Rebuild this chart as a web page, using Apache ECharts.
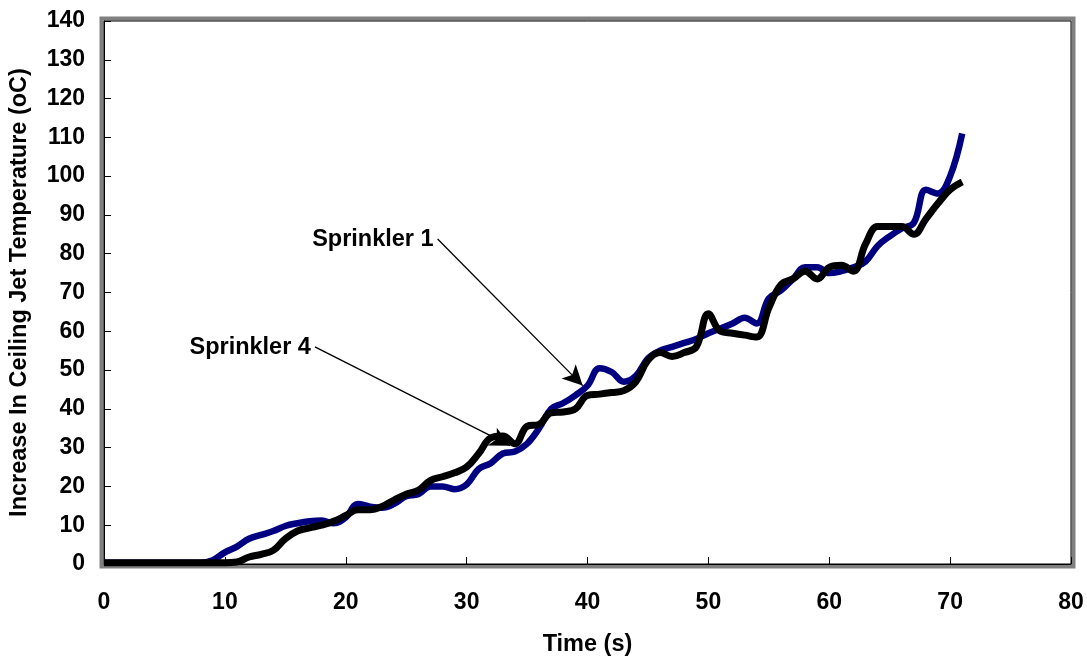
<!DOCTYPE html>
<html>
<head>
<meta charset="utf-8">
<script src="https://cdn.jsdelivr.net/npm/echarts@6/dist/echarts.min.js"></script>
<style>
  html, body { margin: 0; padding: 0; background: #fff; }
  #main { width: 1087px; height: 662px; }
</style>
</head>
<body>
<div id="main"></div>
<script>
// time (s), one reading per second
var times = [];
for (var i = 0; i <= 71; i++) times.push(i);

// Sprinkler 1 (navy)
var sprinkler1 = [
  0.3, 0.3, 0.3, 0.3, 0.3, 0.3, 0.3, 0.3, 0.3, 1,
  3, 4.5, 6.5, 7.5, 8.5, 9.8, 10.5, 11, 11.2, 10.5,
  12, 15.5, 14.8, 14.5, 15.5, 17.5, 18, 20, 20, 19.3,
  20.5, 24.5, 26, 28.5, 29, 31, 35, 40, 41.5, 43.5,
  46, 50.5, 49.5, 47, 48.5, 53, 55, 56, 57, 58,
  59.5, 60.7, 62, 63.5, 62, 68.5, 70.5, 73.5, 76.5, 76.5,
  75, 75.5, 76.5, 78, 82, 84.5, 86.5, 88, 96.5, 95.5,
  100, 111
];

// Sprinkler 4 (black)
var sprinkler4 = [
  0.3, 0.3, 0.3, 0.3, 0.3, 0.3, 0.3, 0.3, 0.3, 0.3,
  0.3, 0.5, 1.8, 2.5, 3.5, 6.5, 8.5, 9.3, 10, 11,
  12.5, 14, 14, 14.8, 16.5, 18, 19, 21.5, 22.5, 23.5,
  25, 28.5, 32.5, 33, 31, 35.5, 36, 39, 39.2, 40,
  43.5, 43.8, 44.2, 44.7, 47, 52.5, 54.5, 53.5, 54.5, 56,
  64.5, 60, 59.5, 59, 58.5, 66, 72, 73.5, 75.5, 73.5,
  76.5, 77, 75.5, 82.5, 87, 87, 87, 85, 89, 93,
  96.5, 98.5
];

// annotation callouts (data coordinates)
var annoLabels = ['Sprinkler 1', 'Sprinkler 4'];
var annoFrom = [[27.6, 83.8], [17.45, 56]];
var annoTo = [[39.6, 46], [33.6, 30.5]];

function pairs(vals) {
  var out = [];
  for (var i = 0; i < vals.length; i++) out.push([times[i], vals[i]]);
  return out;
}

var font = 'Liberation Sans, Arial, sans-serif';
var labelStyle = { color: '#000', fontSize: 23.5, fontWeight: 'bold', fontFamily: font };
var tickStyle = { color: '#000', fontSize: 23, fontWeight: 'bold', fontFamily: font };

var myChart = echarts.init(document.getElementById('main'));

var arrows = [];
for (var k = 0; k < annoLabels.length; k++) {
  arrows.push([{ coord: annoFrom[k] }, { coord: annoTo[k] }]);
}

var option = {
  animation: false,
  backgroundColor: '#fff',
  grid: { left: 104, right: 16, top: 21, bottom: 95 },
  xAxis: {
    type: 'value',
    min: 0, max: 80, interval: 10,
    name: 'Time (s)',
    nameLocation: 'middle',
    nameGap: 69,
    nameTextStyle: labelStyle,
    axisLine: { show: true, lineStyle: { color: '#000', width: 1 } },
    axisTick: { show: true, inside: true, length: 7, lineStyle: { color: '#000' } },
    axisLabel: Object.assign({ margin: 27 }, tickStyle),
    splitLine: { show: false }
  },
  yAxis: {
    type: 'value',
    min: 0, max: 140, interval: 10,
    name: 'Increase In Ceiling Jet Temperature (oC)',
    nameLocation: 'middle',
    nameGap: 72,
    nameTextStyle: labelStyle,
    axisLine: { show: true, lineStyle: { color: '#000', width: 1 } },
    axisTick: { show: true, inside: true, length: 7, lineStyle: { color: '#000' } },
    axisLabel: Object.assign({ margin: 19 }, tickStyle),
    splitLine: { show: false }
  },
  series: [
    {
      name: 'Sprinkler 1',
      type: 'line',
      data: pairs(sprinkler1),
      smooth: 0.4,
      showSymbol: false,
      lineStyle: { color: '#000080', width: 6.5 },
      z: 2,
      markLine: {
        silent: true,
        symbol: ['none', 'arrow'],
        symbolSize: [15, 20],
        label: { show: false },
        lineStyle: { color: '#000', width: 1.3, type: 'solid' },
        data: arrows,
        z: 5
      }
    },
    {
      name: 'Sprinkler 4',
      type: 'line',
      data: pairs(sprinkler4),
      smooth: 0.4,
      showSymbol: false,
      lineStyle: { color: '#000', width: 7 },
      z: 3
    }
  ]
};
myChart.setOption(option);

// plot frame and callout texts
var tl = myChart.convertToPixel({ gridIndex: 0 }, [0, 140]);
var br = myChart.convertToPixel({ gridIndex: 0 }, [80, 0]);
var graphics = [
  {
    type: 'rect', z: 0, silent: true,
    shape: { x: tl[0] - 2.5, y: tl[1] - 2.5, width: br[0] - tl[0] + 5, height: br[1] - tl[1] + 5 },
    style: { fill: null, stroke: '#808080', lineWidth: 4 }
  },
  {
    type: 'rect', z: 1, silent: true,
    shape: { x: tl[0], y: tl[1], width: br[0] - tl[0], height: br[1] - tl[1] },
    style: { fill: null, stroke: '#000', lineWidth: 1 }
  }
];
for (var j = 0; j < annoLabels.length; j++) {
  var p = myChart.convertToPixel({ gridIndex: 0 }, annoFrom[j]);
  graphics.push({
    type: 'text', z: 10, silent: true,
    x: p[0] - 4, y: p[1] + 1,
    style: {
      text: annoLabels[j], fill: '#000', fontSize: 23.5, fontWeight: 'bold', fontFamily: font,
      align: 'right', verticalAlign: 'middle'
    }
  });
}
myChart.setOption({ graphic: graphics });
</script>
</body>
</html>
